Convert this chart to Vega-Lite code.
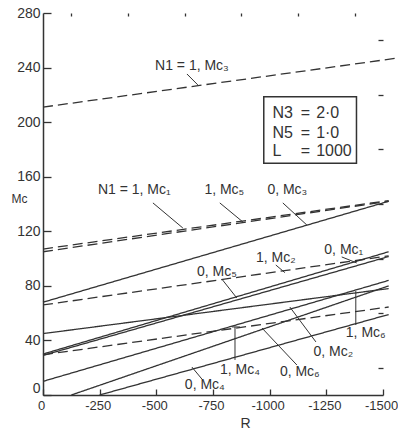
{
  "$schema": "https://vega.github.io/schema/vega-lite/v6.json",
  "width": 340,
  "height": 382,
  "autosize": "none",
  "padding": {"left": 43, "top": 13, "right": 15, "bottom": 35},
  "background": "white",
  "config": {
    "view": {"stroke": null},
    "axis": {
      "domainColor": "#333",
      "tickColor": "#333",
      "labelColor": "#333",
      "titleColor": "#333",
      "labelFont": "Liberation Sans",
      "titleFont": "Liberation Sans",
      "labelFontSize": 14,
      "grid": false,
      "domainWidth": 1.5,
      "tickWidth": 1.3
    },
    "text": {"font": "Liberation Sans", "fontSize": 14, "color": "#333"}
  },
  "datasets": {
    "lines": [
      {"series": "N1=1, Mc3", "style": "dashed", "R": 0, "Mc": 211},
      {"series": "N1=1, Mc3", "style": "dashed", "R": -1565, "Mc": 247},
      {"series": "N1=1, Mc1", "style": "dashed", "R": 0, "Mc": 107},
      {"series": "N1=1, Mc1", "style": "dashed", "R": -1525, "Mc": 142.5},
      {"series": "1, Mc5", "style": "dashed", "R": 0, "Mc": 105},
      {"series": "1, Mc5", "style": "dashed", "R": -1525, "Mc": 142},
      {"series": "0, Mc3", "style": "solid", "R": 0, "Mc": 68},
      {"series": "0, Mc3", "style": "solid", "R": -1525, "Mc": 142},
      {"series": "1, Mc2", "style": "dashed", "R": 0, "Mc": 66},
      {"series": "1, Mc2", "style": "dashed", "R": -1525, "Mc": 102},
      {"series": "1, Mc6", "style": "solid", "R": 0, "Mc": 45},
      {"series": "1, Mc6", "style": "solid", "R": -1525, "Mc": 78},
      {"series": "0, Mc1", "style": "solid", "R": 0, "Mc": 30},
      {"series": "0, Mc1", "style": "solid", "R": -1525, "Mc": 105},
      {"series": "0, Mc5", "style": "solid", "R": 0, "Mc": 29},
      {"series": "0, Mc5", "style": "solid", "R": -1525, "Mc": 101.5},
      {"series": "1, Mc4", "style": "dashed", "R": 0, "Mc": 29.5},
      {"series": "1, Mc4", "style": "dashed", "R": -1525, "Mc": 64.5},
      {"series": "0, Mc2", "style": "solid", "R": 0, "Mc": 10},
      {"series": "0, Mc2", "style": "solid", "R": -1525, "Mc": 84},
      {"series": "0, Mc6", "style": "solid", "R": -125, "Mc": 0},
      {"series": "0, Mc6", "style": "solid", "R": -1525, "Mc": 80},
      {"series": "0, Mc4", "style": "solid", "R": -250, "Mc": 0},
      {"series": "0, Mc4", "style": "solid", "R": -1525, "Mc": 59}
    ],
    "leaders": [
      {"r1": -635, "m1": 235.3, "r2": -683, "m2": 227.3},
      {"r1": -485, "m1": 140.8, "r2": -617, "m2": 122.4},
      {"r1": -780, "m1": 140.8, "r2": -882, "m2": 126.8},
      {"r1": -1058, "m1": 140.8, "r2": -1164, "m2": 124.6},
      {"r1": -1027, "m1": 95.3, "r2": -1067, "m2": 89.7},
      {"r1": -1318, "m1": 101.2, "r2": -1384, "m2": 96.8},
      {"r1": -789, "m1": 85, "r2": -855, "m2": 71.1},
      {"r1": -1380, "m1": 76.2, "r2": -1380, "m2": 51.3},
      {"r1": -1204, "m1": 38.9, "r2": -1089, "m2": 64.5},
      {"r1": -847, "m1": 49.9, "r2": -847, "m2": 25.7},
      {"r1": -833, "m1": 49.9, "r2": -869, "m2": 49.9},
      {"r1": -1120, "m1": 22, "r2": -966, "m2": 49.1},
      {"r1": -701, "m1": 11.7, "r2": -657, "m2": 20.5}
    ],
    "labels": [
      {"label": "N1 = 1, Mc₃", "R": -657, "Mc": 241},
      {"label": "N1 = 1, Mc₁", "R": -403, "Mc": 150.3},
      {"label": "1, Mc₅", "R": -800, "Mc": 150.3},
      {"label": "0, Mc₃", "R": -1078, "Mc": 150.3},
      {"label": "1, Mc₂", "R": -1027, "Mc": 100.4},
      {"label": "0, Mc₁", "R": -1327, "Mc": 106.3},
      {"label": "0, Mc₅", "R": -767, "Mc": 90.2},
      {"label": "1, Mc₆", "R": -1424, "Mc": 45.5},
      {"label": "0, Mc₂", "R": -1281, "Mc": 31.5},
      {"label": "1, Mc₄", "R": -869, "Mc": 18.3},
      {"label": "0, Mc₆", "R": -1133, "Mc": 16.9},
      {"label": "0, Mc₄", "R": -714, "Mc": 7.3}
    ],
    "box": [
      {"r1": -974, "r2": -1383, "m1": 218.7, "m2": 169.9}
    ],
    "boxtext": [
      {"t": "N3", "R": -1012, "Mc": 206.7},
      {"t": "=", "R": -1137, "Mc": 206.7},
      {"t": "2·0", "R": -1205, "Mc": 206.7},
      {"t": "N5", "R": -1012, "Mc": 192},
      {"t": "=", "R": -1137, "Mc": 192},
      {"t": "1·0", "R": -1205, "Mc": 192},
      {"t": "L", "R": -1012, "Mc": 178.9},
      {"t": "=", "R": -1137, "Mc": 178.9},
      {"t": "1000", "R": -1205, "Mc": 178.9}
    ]
  },
  "layer": [
    {
      "data": {"name": "lines"},
      "mark": {"type": "line", "color": "#333", "strokeWidth": 1.3},
      "encoding": {
        "x": {
          "field": "R", "type": "quantitative",
          "scale": {"domain": [0, -1500], "nice": false, "zero": false},
          "axis": {
            "values": [0, -250, -500, -750, -1000, -1250, -1500],
            "format": "d",
            "labelExpr": "replace(datum.label, '−', '-')",
            "labelFontSize": 13,
            "labelOffset": -2,
            "tickSize": -6,
            "labelPadding": 10,
            "labelOverlap": false,
            "labelFlush": false,
            "title": "R",
            "titleX": 202,
            "titleY": 28,
            "titleFontWeight": "normal",
            "titleFontSize": 14,
            "titleBaseline": "middle"
          }
        },
        "y": {
          "field": "Mc", "type": "quantitative",
          "scale": {"domain": [0, 280], "nice": false},
          "axis": {
            "values": [0, 40, 80, 120, 160, 200, 240, 280],
            "tickSize": -8,
            "labelPadding": 11,
            "labelBaseline": {"condition": {"test": "datum.value === 0", "value": "bottom"}, "value": "middle"},
            "labelOverlap": false,
            "labelFlush": false,
            "title": "Mc",
            "titleAngle": 0,
            "titleX": -24,
            "titleY": 185,
            "titleAlign": "center",
            "titleBaseline": "middle",
            "titleFontSize": 12,
            "titleFontWeight": "normal"
          }
        },
        "detail": {"field": "series", "type": "nominal"},
        "strokeDash": {
          "field": "style", "type": "nominal",
          "scale": {"domain": ["solid", "dashed"], "range": [[1, 0], [10, 5]]},
          "legend": null
        }
      }
    },
    {
      "data": {"name": "leaders"},
      "mark": {"type": "rule", "color": "#333", "strokeWidth": 1},
      "encoding": {
        "x": {
          "field": "r1", "type": "quantitative",
          "axis": {
            "values": [-125, -375, -625, -875, -1125, -1375],
            "labels": false, "domain": false, "tickSize": -3, "title": null
          }
        },
        "y": {
          "field": "m1", "type": "quantitative",
          "axis": {
            "values": [20, 60, 100, 140, 180, 220, 260],
            "labels": false, "domain": false, "tickSize": -5, "title": null
          }
        },
        "x2": {"field": "r2"},
        "y2": {"field": "m2"}
      }
    },
    {
      "data": {"name": "labels"},
      "mark": {"type": "text", "align": "center", "baseline": "middle"},
      "encoding": {
        "x": {"field": "R", "type": "quantitative", "axis": null},
        "y": {"field": "Mc", "type": "quantitative", "axis": null},
        "text": {"field": "label"}
      }
    },
    {
      "data": {"name": "box"},
      "mark": {"type": "rect", "filled": false, "stroke": "#333", "strokeWidth": 1.5},
      "encoding": {
        "x": {"field": "r1", "type": "quantitative", "axis": null},
        "x2": {"field": "r2"},
        "y": {"field": "m1", "type": "quantitative", "axis": null},
        "y2": {"field": "m2"}
      }
    },
    {
      "data": {"name": "boxtext"},
      "mark": {"type": "text", "align": "left", "baseline": "middle", "fontSize": 16},
      "encoding": {
        "x": {"field": "R", "type": "quantitative", "axis": null},
        "y": {"field": "Mc", "type": "quantitative", "axis": null},
        "text": {"field": "t"}
      }
    }
  ],
  "resolve": {"axis": {"x": "independent", "y": "independent"}}
}
